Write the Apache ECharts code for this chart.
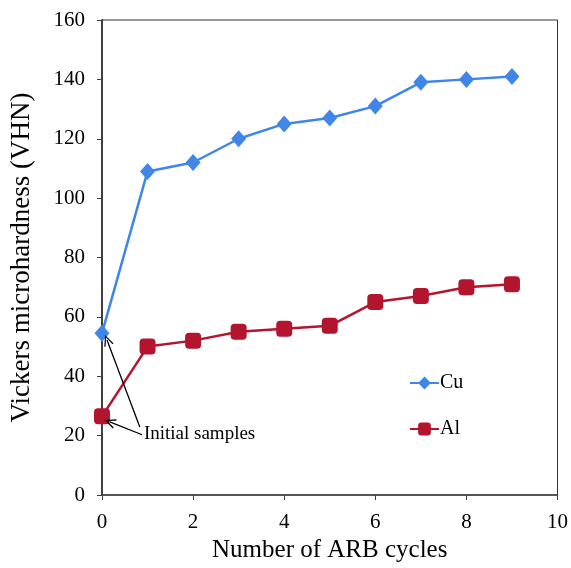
<!DOCTYPE html>
<html><head><meta charset="utf-8">
<script src="https://cdn.jsdelivr.net/npm/echarts@6/dist/echarts.min.js"></script>
<style>html,body{margin:0;padding:0;background:#fff}#c{width:571px;height:568px}</style>
</head><body><div id="c"></div>
<script>
const cycles = [0,1,2,3,4,5,6,7,8,9];
const cuValues = [54.5,109,112,120,125,127,131,139,140,141];
const alValues = [26.5,50,52,55,56,57,65,67,70,71];
const xTicks = {min:0,max:10,interval:2};
const yTicks = {min:0,max:160,interval:20};
const annotationText = 'Initial samples';
const font = 'Liberation Serif';
const openArrow = 'path://M5,0 L10,10 L8.6,10 L5,2.6 L1.4,10 L0,10 Z';

const chart = echarts.init(document.getElementById('c'));
chart.setOption({
  animation:false,
  backgroundColor:'#fff',
  grid:{left:102,right:13,top:20,bottom:73,show:true,borderColor:'#333',borderWidth:1},
  legend:{
    orient:'vertical',left:404,top:368,itemGap:26,itemWidth:29,itemHeight:16,
    textStyle:{fontFamily:font,fontSize:20,color:'#000',padding:[0,0,0,-4]},
    data:['Cu','Al']
  },
  xAxis:{
    type:'value',min:xTicks.min,max:xTicks.max,interval:xTicks.interval,
    name:'Number of ARB cycles',nameLocation:'middle',nameGap:35,
    nameTextStyle:{fontFamily:font,fontSize:25,color:'#000'},
    axisLine:{lineStyle:{color:'#404040',width:1.5}},
    axisTick:{inside:false,length:5,lineStyle:{color:'#404040'}},
    axisLabel:{fontFamily:font,fontSize:21,color:'#000',margin:17},
    splitLine:{show:false}
  },
  yAxis:{
    type:'value',min:yTicks.min,max:yTicks.max,interval:yTicks.interval,
    name:'Vickers microhardness (VHN)',nameLocation:'middle',nameGap:67,
    nameTextStyle:{fontFamily:font,fontSize:27,color:'#000'},
    axisLine:{show:true,lineStyle:{color:'#404040',width:2}},
    axisTick:{show:true,inside:false,length:5,lineStyle:{color:'#404040'}},
    axisLabel:{fontFamily:font,fontSize:21,color:'#000',margin:17},
    splitLine:{show:false}
  },
  series:[
    {
      name:'Cu',type:'line',
      data:cycles.map((c,i)=>[c,cuValues[i]]),
      symbol:'diamond',symbolSize:[15,17],
      itemStyle:{color:'#3F86E8'},
      lineStyle:{color:'#3F86E8',width:2.5},
      z:3
    },
    {
      name:'Al',type:'line',
      data:cycles.map((c,i)=>[c,alValues[i]]),
      symbol:'roundRect',symbolSize:16,
      itemStyle:{color:'#B3152F'},
      lineStyle:{color:'#B3152F',width:2.5},
      z:2,
      markLine:{
        silent:true,
        symbol:['none',openArrow],symbolSize:[10,11],
        lineStyle:{color:'#000',width:1.3,type:'solid'},
        label:{show:false},
        data:[
          [{coord:[0.83,22.9]},{coord:[0.11,52.2]}],
          [{coord:[0.88,20.3]},{coord:[0.17,24.6]}]
        ]
      },
      markPoint:{
        silent:true,
        symbol:'circle',symbolSize:0,
        label:{show:true,position:'right',distance:0,formatter:annotationText,
          fontFamily:font,fontSize:19,color:'#000'},
        data:[{coord:[0.92,20.5]}]
      }
    }
  ]
});
</script></body></html>
